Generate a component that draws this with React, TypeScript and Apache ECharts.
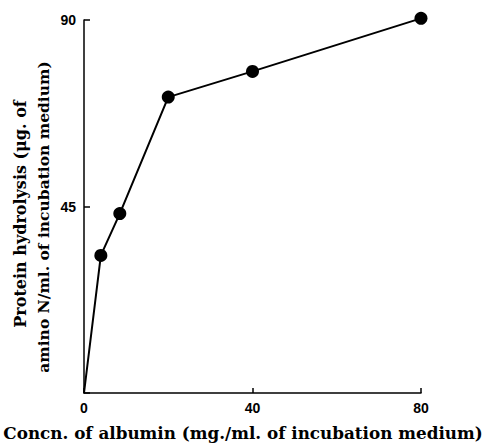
import React, { useEffect, useRef } from "react";
import * as echarts from "echarts";

const albuminConc = [0, 4, 8.5, 20, 40, 80];
const hydrolysis = [0, 33.2, 43.3, 71.4, 77.6, 90.4];
const xTicks = [0, 40, 80];
const yTicks = [45, 90];

export default function App() {
  const ref = useRef<HTMLDivElement>(null);
  useEffect(() => {
    if (!ref.current) return;
    const chart = echarts.init(ref.current, null, { renderer: "svg" });
    const data = albuminConc.map((x, i) => ({
      value: [x, hydrolysis[i]],
      symbolSize: i === 0 ? 0 : 13,
    }));
    chart.setOption({
      animation: false,
      backgroundColor: "#fff",
      grid: { left: 84, right: 65, top: 20, bottom: 51 },
      xAxis: {
        type: "value",
        min: 0,
        max: 80,
        interval: 40,
        axisLine: { lineStyle: { color: "#000", width: 1.5 } },
        axisTick: { inside: true, length: 5, lineStyle: { color: "#000", width: 1.5 } },
        splitLine: { show: false },
        axisLabel: {
          color: "#000",
          fontFamily: "Liberation Sans",
          fontWeight: "bold",
          fontSize: 14,
          margin: 8,
          formatter: (v: number) => (xTicks.includes(v) ? String(v) : ""),
        },
      },
      yAxis: {
        type: "value",
        min: 0,
        max: 90,
        interval: 45,
        axisLine: { show: true, lineStyle: { color: "#000", width: 1.5 } },
        axisTick: { show: true, inside: true, length: 6, lineStyle: { color: "#000", width: 1.5 } },
        splitLine: { show: false },
        axisLabel: {
          color: "#000",
          fontFamily: "Liberation Sans",
          fontWeight: "bold",
          fontSize: 14,
          margin: 8,
          formatter: (v: number) => (yTicks.includes(v) ? String(v) : ""),
        },
      },
      series: [
        {
          type: "line",
          data,
          symbol: "circle",
          clip: false,
          lineStyle: { color: "#000", width: 2 },
          itemStyle: { color: "#000", borderWidth: 0 },
        },
      ],
      graphic: [
        {
          type: "text",
          x: 243,
          y: 433,
          style: {
            text: "Concn. of albumin (mg./ml. of incubation medium)",
            fontFamily: "DejaVu Serif",
            fontWeight: "bold",
            fontSize: 16.8,
            fill: "#000",
            textAlign: "center",
            textVerticalAlign: "middle",
          },
        },
        {
          type: "text",
          x: 20,
          y: 214,
          rotation: Math.PI / 2,
          style: {
            text: "Protein hydrolysis (\u03bcg. of",
            fontFamily: "DejaVu Serif",
            fontWeight: "bold",
            fontSize: 16,
            fill: "#000",
            textAlign: "center",
            textVerticalAlign: "middle",
          },
        },
        {
          type: "text",
          x: 43,
          y: 217,
          rotation: Math.PI / 2,
          style: {
            text: "amino N/ml. of incubation medium)",
            fontFamily: "DejaVu Serif",
            fontWeight: "bold",
            fontSize: 15.5,
            fill: "#000",
            textAlign: "center",
            textVerticalAlign: "middle",
          },
        },
      ],
    });
    return () => chart.dispose();
  }, []);
  return <div ref={ref} style={{ width: 486, height: 444, position: "absolute", left: 0, top: 0 }} />;
}
